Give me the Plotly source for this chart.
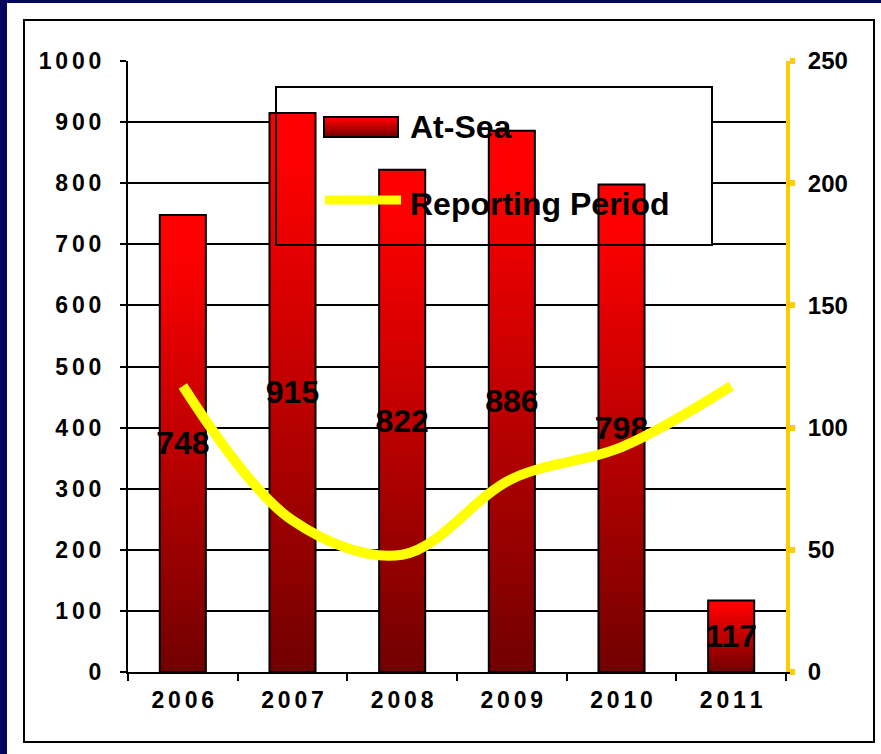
import plotly.graph_objects as go

years = ["2006", "2007", "2008", "2009", "2010", "2011"]
at_sea = [748, 915, 822, 886, 798, 117]
reporting_period = [117, 62, 48, 79, 92, 117]
left_ticks = list(range(0, 1001, 100))
right_ticks = list(range(0, 251, 50))

W, H = 881, 754
# plot area in pixels
L, R, T, B = 128, 786, 61, 672
SP = "\u2006"
FONT = "Liberation Sans, Arial, sans-serif"
NAVY = "#06065E"


def px(x):
    return (x - L) / (R - L)


def py(y):
    return (B - y) / (B - T)


def red(f):
    r = int(0x72 + (0xFF - 0x72) * min(1.0, f / 0.92))
    return f"rgb({r},0,0)"


fig = go.Figure()

# gradient bars: overlapping slices, each from its base to the top of the bar
N = 50
for i in range(N):
    fig.add_trace(
        go.Bar(
            x=years,
            y=[v * (N - i) / N for v in at_sea],
            base=[v * i / N for v in at_sea],
            width=0.42,
            marker=dict(color=red((i + 0.5) / N), line_width=0),
            hoverinfo="skip",
            showlegend=False,
        )
    )

fig.add_trace(
    go.Bar(
        x=years,
        y=at_sea,
        width=0.42,
        name="At-Sea",
        marker=dict(color="rgba(0,0,0,0)", line=dict(color="black", width=2)),
        text=at_sea,
        textposition="inside",
        insidetextanchor="middle",
        textangle=0,
        constraintext="none",
        textfont=dict(family=FONT, size=32, color="black", weight="bold"),
        showlegend=False,
    )
)

fig.add_trace(
    go.Scatter(
        x=years,
        y=reporting_period,
        yaxis="y2",
        mode="lines",
        name="Reporting Period",
        line=dict(color="#FFFF00", width=10, shape="spline", smoothing=1),
        showlegend=False,
    )
)


def xd(x):
    return -0.5 + len(years) * px(x)


def yd(y):
    return 1000 * py(y)


shapes = [
    # navy frame strips on the left and top
    dict(type="rect", xref="paper", yref="paper", x0=px(0), x1=px(7), y0=py(0), y1=py(H),
         fillcolor=NAVY, line_width=0, layer="below"),
    dict(type="rect", xref="paper", yref="paper", x0=px(0), x1=px(W), y0=py(0), y1=py(3),
         fillcolor=NAVY, line_width=0, layer="below"),
    # outer black border
    dict(type="rect", xref="paper", yref="paper", x0=px(24), x1=px(874), y0=py(20), y1=py(742),
         line=dict(color="black", width=2), fillcolor="rgba(0,0,0,0)", layer="above"),
    # legend box: white fill over the grid, border over the bars
    dict(type="rect", xref="x", yref="y", x0=xd(276), x1=xd(712), y0=yd(87), y1=yd(245),
         fillcolor="white", line_width=0, layer="between"),
    dict(type="rect", xref="paper", yref="paper", x0=px(276), x1=px(712), y0=py(87), y1=py(245),
         line=dict(color="black", width=2), fillcolor="rgba(0,0,0,0)", layer="above"),
    # line swatch
    dict(type="line", xref="paper", yref="paper", x0=px(325), x1=px(401), y0=py(200), y1=py(200),
         line=dict(color="#FFFF00", width=9), layer="above"),
]
# bar swatch with gradient
sw_top, sw_bot, n_sw = 117, 137, 10
for k in range(n_sw):
    y0 = sw_top + (sw_bot - sw_top) * k / n_sw
    y1 = sw_top + (sw_bot - sw_top) * (k + 1) / n_sw
    shapes.append(dict(type="rect", xref="paper", yref="paper", x0=px(324), x1=px(398),
                       y0=py(y0), y1=py(y1), fillcolor=red(1 - (k + 0.5) / n_sw),
                       line_width=0, layer="above"))
shapes.append(dict(type="rect", xref="paper", yref="paper", x0=px(324), x1=px(398),
                   y0=py(sw_top), y1=py(sw_bot), line=dict(color="black", width=2),
                   fillcolor="rgba(0,0,0,0)", layer="above"))

annotations = [
    dict(text="At-Sea", x=px(408), y=py(127), xref="paper", yref="paper", xanchor="left",
         yanchor="middle", showarrow=False,
         font=dict(family=FONT, size=32, color="black", weight="bold")),
    dict(text="Reporting Period", x=px(408), y=py(204), xref="paper", yref="paper",
         xanchor="left", yanchor="middle", showarrow=False,
         font=dict(family=FONT, size=32, color="black", weight="bold")),
]

tick_font = dict(family=FONT, size=23, color="black", weight="bold")

fig.update_layout(
    template="none",
    width=W,
    height=H,
    margin=dict(l=L, r=W - R, t=T, b=H - B, pad=0),
    paper_bgcolor="white",
    plot_bgcolor="white",
    barmode="overlay",
    showlegend=False,
    shapes=shapes,
    annotations=annotations,
    xaxis=dict(
        type="category",
        automargin=False,
        showgrid=False,
        showline=True,
        linecolor="black",
        linewidth=2,
        ticks="outside",
        tickson="boundaries",
        ticklen=7,
        tickwidth=2,
        tickcolor="black",
        tickvals=years,
        ticktext=[SP.join(y) for y in years],
        tickfont=tick_font,
        ticklabelstandoff=6,
    ),
    yaxis=dict(
        range=[0, 1000],
        automargin=False,
        tickvals=left_ticks,
        ticktext=[SP.join(str(v)) for v in left_ticks],
        tickfont=tick_font,
        showgrid=True,
        gridcolor="black",
        gridwidth=2,
        zeroline=False,
        showline=True,
        linecolor="black",
        linewidth=2,
        ticks="outside",
        ticklen=6,
        tickwidth=2,
        tickcolor="black",
        ticklabelstandoff=14,
    ),
    yaxis2=dict(
        overlaying="y",
        side="right",
        range=[0, 250],
        automargin=False,
        tickvals=right_ticks,
        tickfont=dict(family=FONT, size=24, color="black", weight="bold"),
        showgrid=False,
        zeroline=False,
        showline=True,
        linecolor="#FFCC00",
        linewidth=4,
        ticks="outside",
        ticklen=5,
        tickwidth=6,
        tickcolor="#FFCC00",
        ticklabelstandoff=8,
    ),
)

# drop the page's default body margin so the figure sits at the window corner
fig.write_html(
    "out.html",
    config={"displayModeBar": False},
    post_script="document.body.style.margin = '0';",
)
